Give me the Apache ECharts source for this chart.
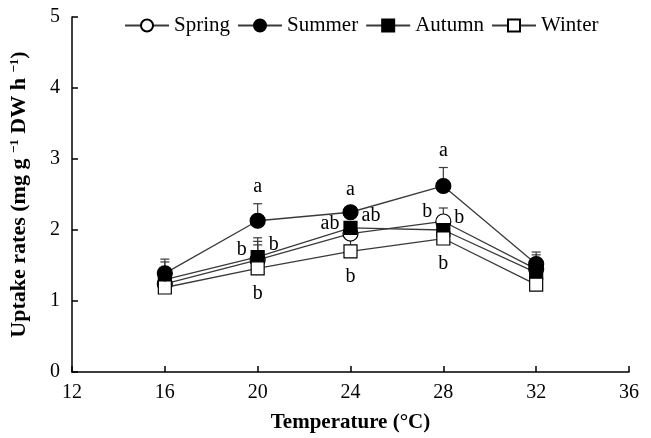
<!DOCTYPE html>
<html>
<head>
<meta charset="utf-8">
<script src="https://cdn.jsdelivr.net/npm/echarts@6/dist/echarts.min.js"></script>
<style>html,body{margin:0;padding:0;background:#fff}#c{width:651px;height:438px}</style>
</head>
<body>
<div id="c"></div>
<script>
const temperatures = [16, 20, 24, 28, 32];
const xTicks = [12, 16, 20, 24, 28, 32, 36];
const yTicks = [0, 1, 2, 3, 4, 5];

const spring = [1.24, 1.58, 1.95, 2.12, 1.45];
const summer = [1.39, 2.13, 2.25, 2.62, 1.52];
const autumn = [1.30, 1.62, 2.03, 2.00, 1.40];
const winter = [1.19, 1.46, 1.70, 1.88, 1.23];

const springErr = [0.08, 0.26, 0.06, 0.19, 0.20];
const summerErr = [0.20, 0.24, 0.08, 0.26, 0.17];
const autumnErr = [0.25, 0.27, 0.05, 0.06, 0.08];
const winterErr = [0.10, 0.33, 0.20, 0.05, 0.10];

const springLetters = ['', 'b', 'ab', 'b', ''];
const summerLetters = ['', 'a', 'a', 'a', ''];
const autumnLetters = ['', 'b', 'ab', 'b', ''];
const winterLetters = ['', 'b', 'b', 'b', ''];

const FONT = '"Liberation Serif", "Times New Roman", serif';
const LINE = '#3a3a3a';

const seasons = [
  {name: 'Spring', vals: spring, err: springErr, letters: springLetters, symbol: 'circle', size: 15, fill: '#fff', side: 'left'},
  {name: 'Autumn', vals: autumn, err: autumnErr, letters: autumnLetters, symbol: 'rect', size: 13, fill: '#000', side: 'right'},
  {name: 'Winter', vals: winter, err: winterErr, letters: winterLetters, symbol: 'rect', size: 13, fill: '#fff', side: 'bottom'},
  {name: 'Summer', vals: summer, err: summerErr, letters: summerLetters, symbol: 'circle', size: 15, fill: '#000', side: 'top'}
];

const series = [];
seasons.forEach(s => {
  series.push({
    type: 'custom',
    name: s.name + ' err',
    z: 1,
    silent: true,
    data: temperatures.map((t, i) => [t, s.vals[i], s.err[i]]),
    renderItem: function (params, api) {
      const i = params.dataIndex;
      const p = api.coord([api.value(0), api.value(1)]);
      const top = api.coord([api.value(0), api.value(1) + api.value(2)]);
      const children = [
        {type: 'line', shape: {x1: p[0], y1: p[1], x2: top[0], y2: top[1]}, style: {stroke: LINE, lineWidth: 1.2}},
        {type: 'line', shape: {x1: top[0] - 4.5, y1: top[1], x2: top[0] + 4.5, y2: top[1]}, style: {stroke: LINE, lineWidth: 1.2}}
      ];
      const txt = s.letters[i];
      if (txt) {
        let x = p[0], y = p[1], align = 'center';
        if (s.side === 'top') { y = top[1] - 17; }
        else if (s.side === 'bottom') { y = p[1] + 25; }
        else if (s.side === 'left') { x = p[0] - 11; y = p[1] - 10; align = 'right'; }
        else { x = p[0] + 11; y = p[1] - 12; align = 'left'; }
        children.push({type: 'text', z2: 100, style: {text: txt, x: x, y: y, align: align, verticalAlign: 'middle', font: '20px ' + FONT, fill: '#000'}});
      }
      return {type: 'group', children: children};
    }
  });
});
seasons.forEach(s => {
  series.push({
    type: 'line',
    name: s.name,
    z: 3,
    data: temperatures.map((t, i) => [t, s.vals[i]]),
    symbol: s.symbol,
    symbolSize: s.size,
    showAllSymbol: true,
    lineStyle: {color: LINE, width: 1.3},
    itemStyle: {color: s.fill, borderColor: '#000', borderWidth: 1.2},
    emphasis: {disabled: true}
  });
});

const chart = echarts.init(document.getElementById('c'), null, {renderer: 'canvas'});
chart.setOption({
  animation: false,
  backgroundColor: '#fff',
  grid: {left: 67, right: 22, top: 17, bottom: 61, containLabel: false},
  legend: {
    data: ['Spring', 'Summer', 'Autumn', 'Winter'],
    left: 119, top: 10,
    itemWidth: 44, itemHeight: 15, itemGap: 7,
    textStyle: {fontSize: 21, fontFamily: FONT, color: '#000'}
  },
  xAxis: {
    type: 'value', min: xTicks[0], max: xTicks[xTicks.length - 1], interval: 4,
    name: 'Temperature (°C)', nameLocation: 'middle', nameGap: 40,
    nameTextStyle: {fontSize: 21, fontWeight: 'bold', fontFamily: FONT, color: '#000'},
    axisLine: {lineStyle: {color: '#000', width: 1.5}},
    axisTick: {inside: true, length: 6, lineStyle: {color: '#000', width: 1.5}},
    axisLabel: {fontSize: 20, fontFamily: FONT, color: '#000', margin: 11},
    splitLine: {show: false}
  },
  yAxis: {
    type: 'value', min: yTicks[0], max: yTicks[yTicks.length - 1], interval: 1,
    name: 'Uptake rates (mg g {s|−1} DW h {s|−1})', nameLocation: 'middle', nameGap: 42,
    nameTextStyle: {fontSize: 22, fontWeight: 'bold', fontFamily: FONT, color: '#000',
      rich: {s: {fontSize: 13, fontWeight: 'bold', fontFamily: FONT, verticalAlign: 'top', padding: [0, 0, 9, 0]}}},
    axisLine: {show: true, lineStyle: {color: '#000', width: 1.5}},
    axisTick: {show: true, inside: true, length: 6, lineStyle: {color: '#000', width: 1.5}},
    axisLabel: {fontSize: 20, fontFamily: FONT, color: '#000', margin: 12},
    splitLine: {show: false}
  },
  series: series
});
</script>
</body>
</html>
